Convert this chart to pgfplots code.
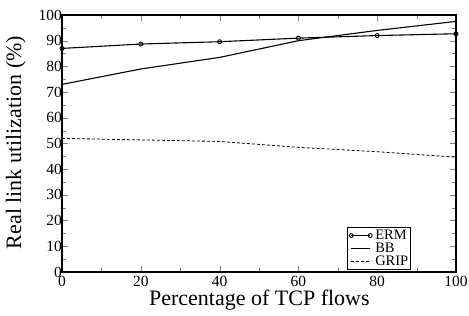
\documentclass[border=0pt]{standalone}
\usepackage{pgfplots}
\pgfplotsset{compat=1.18}
\usepackage{fontspec}
\setmainfont{Liberation Serif}
\begin{document}
\begin{tikzpicture}
\begin{axis}[
  scale only axis,
  width=394pt, height=257pt,
  xmin=0, xmax=100, ymin=0, ymax=100,
  xtick={0,20,...,100}, ytick={0,10,...,100},
  minor x tick num=1, minor y tick num=1,
  tick align=inside,
  major tick length=6pt, minor tick length=4pt,
  /pgf/number format/assume math mode=true,
  tick label style={font=\fontsize{15.5}{15.5}\selectfont},
  yticklabel style={xshift=2pt, inner sep=2pt},
  xticklabel style={inner sep=2pt, yshift=-1.5pt},
  label style={font=\fontsize{22}{22}\selectfont},
  xlabel={Percentage of TCP flows},
  ylabel={Real link utilization (\%)},
  xlabel style={at={(axis description cs:0.501,-0.109)}, anchor=center},
  ylabel style={at={(axis description cs:-0.117,0.504)}, anchor=center},
  legend style={at={(0.885,0.008)}, anchor=south east, font=\fontsize{14.5}{14.5}\selectfont, inner xsep=2pt, inner ysep=1.5pt, row sep=0pt, column sep=3pt, draw=black, line width=0.8pt, nodes={text height=10.5pt, text depth=2.5pt, inner sep=0pt}},
  legend image code/.code={\draw[#1] plot coordinates {(0pt,0pt) (19pt,0pt)};},
  legend cell align=left,
  every axis plot/.append style={line width=1.1pt},
  axis line style={line width=1.3pt},
]
\addplot[black, mark=o, mark size=2pt, mark options={fill=white, line width=0.9pt}] coordinates {(0,87) (20,88.7) (40,89.6) (60,91) (80,92) (100,92.7)};
\addlegendentry{ERM}
\addplot[black] coordinates {(0,73) (20,79) (40,83.5) (60,90) (80,94) (100,97.5)};
\addlegendentry{BB}
\addplot[black, densely dashed, line width=0.8pt] coordinates {(0,52) (20,51.4) (40,50.8) (60,48.5) (80,46.8) (100,44.7)};
\addlegendentry{GRIP}
\end{axis}
\pgfresetboundingbox
\path ([xshift=-62pt,yshift=-44pt]current axis.south west) rectangle ([xshift=13pt,yshift=15pt]current axis.north east);
\end{tikzpicture}
\end{document}
